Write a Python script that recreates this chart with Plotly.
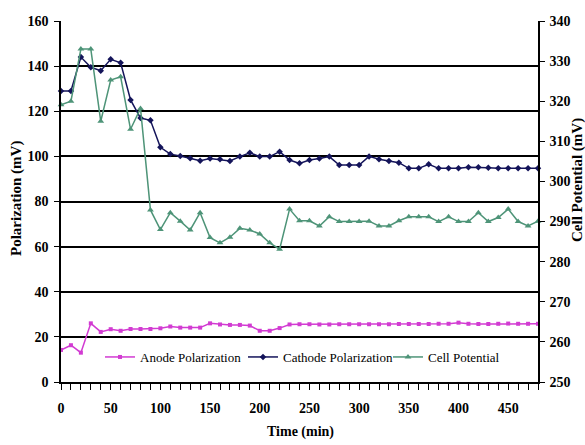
import plotly.graph_objects as go

time_min = [0, 10, 20, 30, 40, 50, 60, 70, 80, 90, 100, 110, 120, 130, 140, 150, 160, 170, 180, 190,
            200, 210, 220, 230, 240, 250, 260, 270, 280, 290, 300, 310, 320, 330, 340, 350, 360, 370,
            380, 390, 400, 410, 420, 430, 440, 450, 460, 470, 480]

anode_mv = [14.2, 16.3, 13.0, 26.0, 22.2, 23.4, 22.7, 23.5, 23.5, 23.5, 23.8, 24.6, 24.1, 24.1, 24.1,
            26.0, 25.5, 25.3, 25.3, 25.0, 22.7, 22.7, 23.9, 25.5, 25.6, 25.6, 25.5, 25.5, 25.6, 25.6,
            25.6, 25.6, 25.6, 25.6, 25.7, 25.7, 25.7, 25.7, 25.8, 25.8, 26.3, 25.8, 25.7, 25.7, 25.8,
            25.9, 25.8, 25.8, 25.8]

cathode_mv = [129.0, 129.0, 144.0, 139.5, 138.0, 143.0, 141.5, 125.0, 117.0, 116.0, 104.0, 101.0,
              100.2, 99.2, 98.1, 99.1, 98.7, 98.0, 99.9, 101.6, 99.9, 99.9, 102.1, 98.4, 96.9, 98.4,
              99.1, 99.9, 96.2, 96.2, 96.2, 100.0, 98.7, 98.0, 97.2, 94.7, 94.7, 96.5, 94.7, 94.7,
              94.7, 95.2, 95.2, 95.0, 94.7, 94.7, 94.7, 94.7, 94.7]

cell_mv = [319.1, 320.0, 333.0, 333.0, 315.0, 325.3, 326.1, 313.0, 318.2, 292.9, 288.0, 292.2,
           290.1, 287.9, 292.2, 286.0, 284.7, 286.1, 288.3, 287.9, 286.9, 284.7, 283.1, 293.1,
           290.2, 290.2, 288.9, 291.2, 290.0, 290.0, 290.0, 290.1, 288.9, 288.9, 290.2, 291.2,
           291.2, 291.2, 290.0, 291.2, 290.0, 290.0, 292.2, 290.0, 291.0, 293.1, 290.0, 288.9, 290.1]

left_ticks = [0, 20, 40, 60, 80, 100, 120, 140, 160]
right_ticks = [250, 260, 270, 280, 290, 300, 310, 320, 330, 340]
x_ticks = [0, 50, 100, 150, 200, 250, 300, 350, 400, 450]

SERIF = "Liberation Serif, Times New Roman, serif"
tickfont = dict(family=SERIF, size=14, color="black", weight="bold")

W, H = 585, 445
l, r, t, b = 61, 47, 21, 63
pw, ph = W - l - r, H - t - b


def px2paper(px, py):
    return (px - l) / pw, (H - b - py) / ph


def ann(text, px, py, size, angle=0):
    x, y = px2paper(px, py)
    return dict(text=text, x=x, y=y, xref="paper", yref="paper", xanchor="center", yanchor="middle",
                showarrow=False, textangle=angle,
                font=dict(family=SERIF, size=size, color="black", weight="bold"))


def legend_at(px, py):
    x, y = px2paper(px, py)
    return dict(orientation="h", x=x, y=y, xanchor="left", yanchor="middle",
                font=dict(family=SERIF, size=13, color="black"),
                bgcolor="rgba(0,0,0,0)", itemwidth=30)


fig = go.Figure()
fig.add_trace(go.Scatter(
    x=time_min, y=anode_mv, name="Anode Polarization", mode="lines+markers", legend="legend",
    line=dict(color="#D23BD2", width=1.5), marker=dict(symbol="square", size=4, color="#D23BD2"),
    cliponaxis=False))
fig.add_trace(go.Scatter(
    x=time_min, y=cathode_mv, name="Cathode Polarization", mode="lines+markers", legend="legend2",
    line=dict(color="#14145A", width=1.5), marker=dict(symbol="diamond", size=5, color="#14145A"),
    cliponaxis=False))
fig.add_trace(go.Scatter(
    x=time_min, y=cell_mv, name="Cell Potential", mode="lines+markers", yaxis="y2", legend="legend3",
    line=dict(color="#4E9478", width=1.5), marker=dict(symbol="triangle-up", size=6, color="#4E9478"),
    cliponaxis=False))

fig.update_layout(
    width=W, height=H,
    margin=dict(l=l, r=r, t=t, b=b),
    paper_bgcolor="white", plot_bgcolor="white",
    showlegend=True,
    legend=legend_at(100, 357),
    legend2=legend_at(243, 357),
    legend3=legend_at(388, 357),
    xaxis=dict(range=[0, 480], tickmode="array", tickvals=x_ticks, ticktext=[str(v) for v in x_ticks],
               ticks="outside", ticklen=6, tickwidth=1, tickcolor="black",
               minor=dict(dtick=10, tick0=0, ticks="outside", ticklen=6, tickcolor="black", showgrid=False),
               showline=True, linecolor="black", linewidth=1.5, showgrid=False, zeroline=False,
               tickfont=tickfont, ticklabelstandoff=6),
    yaxis=dict(range=[0, 160], tickmode="array", tickvals=left_ticks,
               ticks="outside", ticklen=5, tickcolor="black",
               showline=True, linecolor="black", linewidth=1.5,
               showgrid=True, gridcolor="black", gridwidth=1.5, zeroline=False,
               tickfont=tickfont, ticklabelstandoff=3),
    yaxis2=dict(range=[250, 340], overlaying="y", side="right", tickmode="array", tickvals=right_ticks,
                ticks="outside", ticklen=5, tickcolor="black",
                showline=True, linecolor="black", linewidth=1.5,
                showgrid=False, zeroline=False, tickfont=tickfont, ticklabelstandoff=2),
    annotations=[
        ann("Polarization (mV)", 17, 199, 15, -90),
        ann("Cell Potential (mV)", 577, 180, 15, -90),
        ann("Time (min)", 300, 432, 14),
    ],
)

fig.write_html("out.html", config={"displayModeBar": False},
               post_script="document.body.style.margin='0px';document.body.style.padding='0px';")
